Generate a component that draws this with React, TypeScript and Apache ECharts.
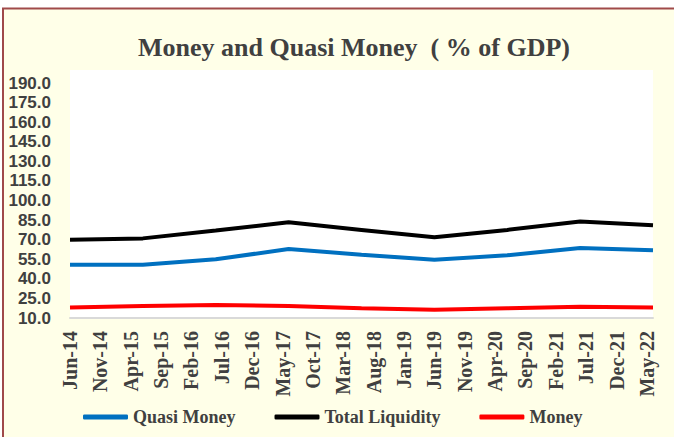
import React, { useEffect, useRef } from "react";
import * as echarts from "echarts";

const MONTH_NAMES = ["Jan", "Feb", "Mar", "Apr", "May", "Jun", "Jul", "Aug", "Sep", "Oct", "Nov", "Dec"];

// Monthly category axis: Jun-14 .. Jun-22
const categories: string[] = [];
for (let y = 2014, m = 5; y < 2022 || (y === 2022 && m <= 5); ) {
  categories.push(`${MONTH_NAMES[m]}-${String(y % 100).padStart(2, "0")}`);
  m++;
  if (m === 12) {
    m = 0;
    y++;
  }
}

// Observation dates (end of fiscal year)
const pointDates = ["Jun-14", "Jun-15", "Jun-16", "Jun-17", "Jun-18", "Jun-19", "Jun-20", "Jun-21", "Jun-22"];
const quasiMoney = [50.8, 50.8, 55.0, 62.8, 58.5, 54.6, 58.0, 63.6, 62.0];
const totalLiquidity = [70.0, 71.0, 77.0, 83.3, 77.5, 71.8, 77.5, 84.0, 81.0];
const money = [18.0, 19.2, 20.0, 19.2, 17.5, 16.4, 17.5, 18.7, 18.0];

const yTickLabels = [10, 25, 40, 55, 70, 85, 100, 115, 130, 145, 160, 175, 190];

const seriesNames = ["Quasi Money", "Total Liquidity", "Money"];
const seriesColors = ["#0070C0", "#000000", "#FF0000"];

export default function App() {
  const ref = useRef<HTMLDivElement>(null);
  useEffect(() => {
    if (!ref.current) return;
    const chart = echarts.init(ref.current, null, { renderer: "svg" });
    const datasets = [quasiMoney, totalLiquidity, money];
    chart.setOption({
      animation: false,
      backgroundColor: "#FFFFFF",
      graphic: [
        {
          type: "rect",
          z: -100,
          silent: true,
          shape: { x: 3, y: 8.5, width: 720, height: 500 },
          style: { fill: "#FFFFE8", stroke: "#A04A4A", lineWidth: 2 },
        },
      ],
      title: {
        text: "Money and Quasi Money  ( % of GDP)",
        left: 349,
        textAlign: "center",
        top: 29,
        textStyle: {
          fontFamily: "Liberation Serif",
          fontWeight: "bold",
          fontSize: 26,
          color: "#404040",
        },
      },
      grid: {
        left: 70,
        right: 21,
        top: 70,
        bottom: 119,
        show: true,
        backgroundColor: "#FFFFFF",
        borderWidth: 0,
      },
      legend: {
        left: 78,
        top: 403,
        itemWidth: 45,
        itemHeight: 5,
        itemGap: 39,
        icon: "roundRect",
        data: seriesNames,
        textStyle: {
          fontFamily: "Liberation Serif",
          fontWeight: "bold",
          fontSize: 18,
          color: "#404040",
        },
      },
      xAxis: {
        type: "category",
        data: categories,
        boundaryGap: false,
        axisLine: { show: true, lineStyle: { color: "#D9D9D9", width: 2 } },
        axisTick: { show: false },
        splitLine: { show: false },
        axisLabel: {
          interval: 4,
          rotate: 90,
          margin: 13,
          padding: [8, 0, 0, 0],
          fontFamily: "Liberation Serif",
          fontWeight: "bold",
          fontSize: 20,
          color: "#404040",
        },
      },
      yAxis: {
        type: "value",
        min: 10,
        max: 200,
        axisLine: { show: false },
        axisTick: { show: false },
        splitLine: { show: false },
        axisLabel: {
          customValues: yTickLabels,
          margin: 19,
          fontFamily: "Liberation Sans",
          fontWeight: "bold",
          fontSize: 17,
          color: "#404040",
          formatter: (v: number) => v.toFixed(1),
        },
      },
      series: seriesNames.map((name, i) => ({
        name,
        type: "line",
        symbol: "none",
        smooth: false,
        color: seriesColors[i],
        lineStyle: { width: 4, color: seriesColors[i] },
        data: pointDates.map((d, j) => [d, datasets[i][j]]),
      })),
    });
    return () => chart.dispose();
  }, []);
  return (
    <div
      ref={ref}
      style={{ position: "fixed", left: 0, top: 0, width: 674, height: 437 }}
    />
  );
}
